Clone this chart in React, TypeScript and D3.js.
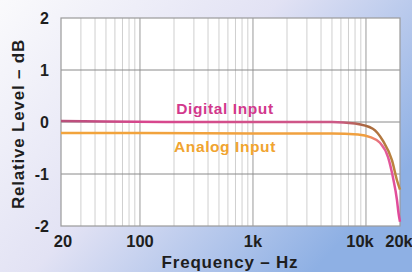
import * as d3 from 'd3';
import { useEffect, useRef } from 'react';

// frequency response
const digitalFreq = [20, 50, 200, 1000, 5000, 8000, 11500, 14100, 17000, 18800, 20000];
const digitalDb = [0.02, 0.01, 0, 0, 0, -0.03, -0.13, -0.36, -0.74, -1.12, -1.3];
const analogFreq = [20, 100, 1000, 5000, 8500, 10900, 13300, 15700, 17300, 18800, 19400, 20000];
const analogDb = [-0.21, -0.21, -0.22, -0.22, -0.24, -0.29, -0.4, -0.68, -1.06, -1.5, -1.75, -1.92];

const yTicks = [2, 1, 0, -1, -2];
const xTickValues = [20, 100, 1000, 10000, 20000];
const xTickLabels = ['20', '100', '1k', '10k', '20k'];

const W = 412;
const H = 272;
const FONT = 'Liberation Sans, Arial, sans-serif';

export default function App() {
  const svgRef = useRef<SVGSVGElement>(null);

  useEffect(() => {
    const svg = d3.select(svgRef.current);
    svg.selectAll('*').remove();

    const x = d3.scaleLog().domain([20, 20000]).range([61, 400]);
    const y = d3.scaleLinear().domain([-2, 2]).range([226, 18]);

    const defs = svg.append('defs');
    const bg = defs.append('linearGradient').attr('id', 'bg')
      .attr('x1', '0').attr('y1', '0').attr('x2', '1').attr('y2', '0.6');
    bg.append('stop').attr('offset', '0').attr('stop-color', '#fafafc');
    bg.append('stop').attr('offset', '0.5').attr('stop-color', '#e2e2f4');
    bg.append('stop').attr('offset', '1').attr('stop-color', '#8eb0e4');

    const gDig = defs.append('linearGradient').attr('id', 'gdig')
      .attr('gradientUnits', 'userSpaceOnUse')
      .attr('x1', 61).attr('x2', 400).attr('y1', 0).attr('y2', 0);
    gDig.append('stop').attr('offset', '0').attr('stop-color', '#b8507a');
    gDig.append('stop').attr('offset', '0.25').attr('stop-color', '#d8468e');
    gDig.append('stop').attr('offset', '0.82').attr('stop-color', '#cc5a86');
    gDig.append('stop').attr('offset', '0.9').attr('stop-color', '#a8683e');
    gDig.append('stop').attr('offset', '1').attr('stop-color', '#c08a40');

    const gAna = defs.append('linearGradient').attr('id', 'gana')
      .attr('gradientUnits', 'userSpaceOnUse')
      .attr('x1', 61).attr('x2', 400).attr('y1', 0).attr('y2', 0);
    gAna.append('stop').attr('offset', '0').attr('stop-color', '#f2a43c');
    gAna.append('stop').attr('offset', '0.9').attr('stop-color', '#f0a040');
    gAna.append('stop').attr('offset', '0.95').attr('stop-color', '#e4609a');
    gAna.append('stop').attr('offset', '1').attr('stop-color', '#e0489a');

    svg.append('rect').attr('width', W).attr('height', H).attr('fill', 'url(#bg)');

    // plot area
    svg.append('rect')
      .attr('x', x(20)).attr('y', y(2))
      .attr('width', x(20000) - x(20)).attr('height', y(-2) - y(2))
      .attr('fill', '#ffffff');

    // vertical grid
    const minor: number[] = [];
    for (let d = 10; d <= 10000; d *= 10) {
      for (let k = 1; k <= 9; k++) {
        const f = d * k;
        if (f > 20 && f < 20000) minor.push(f);
      }
    }
    svg.append('g').selectAll('line').data(minor).join('line')
      .attr('x1', d => x(d)).attr('x2', d => x(d))
      .attr('y1', y(2)).attr('y2', y(-2))
      .attr('stroke', d => ([100, 1000, 10000].includes(d) ? '#9a9a9a' : '#cfcfcf'))
      .attr('stroke-width', 1);

    // horizontal grid
    svg.append('g').selectAll('line').data([1, 0, -1]).join('line')
      .attr('x1', x(20)).attr('x2', x(20000))
      .attr('y1', d => y(d)).attr('y2', d => y(d))
      .attr('stroke', '#8a8a8a').attr('stroke-width', 1);

    svg.append('rect')
      .attr('x', x(20)).attr('y', y(2))
      .attr('width', x(20000) - x(20)).attr('height', y(-2) - y(2))
      .attr('fill', 'none').attr('stroke', '#9a9a9a').attr('stroke-width', 1.2);

    const line = d3.line<[number, number]>()
      .x(d => x(d[0]))
      .y(d => y(d[1]))
      .curve(d3.curveMonotoneX);

    const ana = analogFreq.map((f, i) => [f, analogDb[i]] as [number, number]);
    const dig = digitalFreq.map((f, i) => [f, digitalDb[i]] as [number, number]);

    svg.append('path').attr('d', line(ana))
      .attr('fill', 'none').attr('stroke', 'url(#gana)').attr('stroke-width', 2.5);
    svg.append('path').attr('d', line(dig))
      .attr('fill', 'none').attr('stroke', 'url(#gdig)').attr('stroke-width', 2.5);

    // curve labels
    svg.append('text').text('Digital Input')
      .attr('x', 225).attr('y', 114)
      .attr('text-anchor', 'middle')
      .attr('font-family', FONT)
      .attr('font-weight', 'bold').attr('font-size', 15.5)
      .attr('letter-spacing', 0.6)
      .attr('fill', '#d2388c');
    svg.append('text').text('Analog Input')
      .attr('x', 225).attr('y', 152)
      .attr('text-anchor', 'middle')
      .attr('font-family', FONT)
      .attr('font-weight', 'bold').attr('font-size', 15.5)
      .attr('letter-spacing', 0.6)
      .attr('fill', '#f0a430');

    // y ticks
    svg.append('g').selectAll('text').data(yTicks).join('text')
      .text(d => String(d))
      .attr('x', 49).attr('y', d => y(d) + 6)
      .attr('text-anchor', 'end')
      .attr('font-family', FONT)
      .attr('font-weight', 'bold').attr('font-size', 16)
      .attr('fill', '#1e1e1e');

    // x ticks
    svg.append('g').selectAll('text').data(xTickValues).join('text')
      .text((_, i) => xTickLabels[i])
      .attr('x', d => x(d) + (d === 10000 ? -6 : d === 20000 ? -1 : d === 20 ? 2 : 0))
      .attr('y', 247)
      .attr('text-anchor', 'middle')
      .attr('font-family', FONT)
      .attr('font-weight', 'bold').attr('font-size', 16.5)
      .attr('fill', '#1e1e1e');

    svg.append('text').text('Frequency – Hz')
      .attr('x', 230).attr('y', 268)
      .attr('text-anchor', 'middle')
      .attr('font-family', FONT)
      .attr('font-weight', 'bold').attr('font-size', 17)
      .attr('letter-spacing', 0.8)
      .attr('fill', '#1e1e1e');

    svg.append('text').text('Relative Level – dB')
      .attr('transform', 'translate(24,124) rotate(-90)')
      .attr('text-anchor', 'middle')
      .attr('font-family', FONT)
      .attr('font-weight', 'bold').attr('font-size', 17)
      .attr('letter-spacing', 0.8)
      .attr('fill', '#1e1e1e');
  }, []);

  return (
    <svg
      ref={svgRef}
      width={W}
      height={H}
      viewBox={`0 0 ${W} ${H}`}
      style={{ position: 'absolute', left: 0, top: 0, display: 'block' }}
    />
  );
}
